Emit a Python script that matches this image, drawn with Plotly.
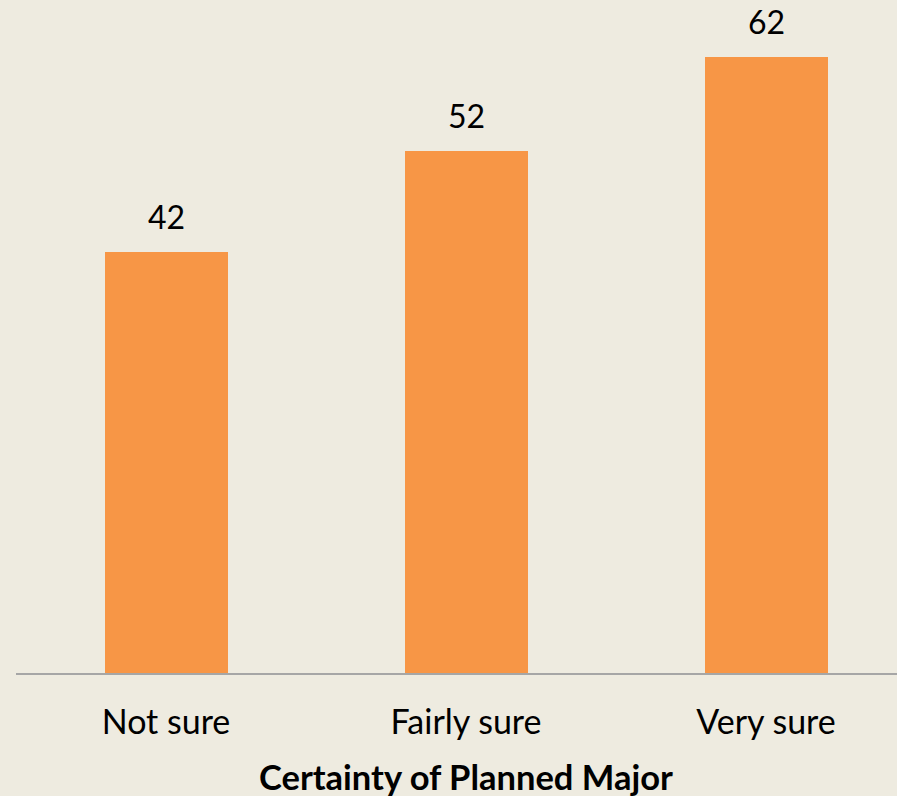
import plotly.graph_objects as go

categories = ["Not sure", "Fairly sure", "Very sure"]
values = [42.1, 52.2, 61.6]
labels = ["42", "52", "62"]
x_title = "Certainty of Planned Major"

BG = "#EEEBE0"
BAR = "#F79646"
FONT = "Lato, 'Noto Sans', sans-serif"

W, H = 897, 796
ml, mb = 16, 123
plot_w = W - ml
cat_px = 300.0
x_range = [-0.5, -0.5 + plot_w / cat_px]
plot_h = H - mb
y_range = [0, plot_h / 10.0]

fig = go.Figure()
fig.add_trace(go.Bar(
    x=list(range(len(categories))), y=values,
    marker=dict(color=BAR, line=dict(width=0)),
    width=0.41, hoverinfo="skip",
))

for i, (v, lab) in enumerate(zip(values, labels)):
    fig.add_annotation(x=i, y=v, xref="x", yref="y", text=lab,
                       showarrow=False, yanchor="bottom", yshift=14,
                       font=dict(family=FONT, size=32, color="#000000"))

fig.add_annotation(x=1, y=0, xref="x", yref="paper", text="<b>%s</b>" % x_title,
                   showarrow=False, yanchor="middle", yshift=-103,
                   font=dict(family=FONT, size=34.5, color="#000000"))

fig.update_layout(
    width=W, height=H,
    margin=dict(l=ml, r=0, t=0, b=mb),
    paper_bgcolor=BG, plot_bgcolor=BG,
    showlegend=False, bargap=0,
    xaxis=dict(range=x_range, tickmode="array", tickvals=list(range(len(categories))),
               ticktext=categories, showgrid=False, zeroline=False,
               showline=True, linecolor="#A6A6A6", linewidth=2,
               ticks="", tickfont=dict(family=FONT, size=34, color="#000000"),
               ticklabelstandoff=18),
    yaxis=dict(range=y_range, visible=False, showgrid=False, zeroline=False),
)

fig.write_html("out.html")
